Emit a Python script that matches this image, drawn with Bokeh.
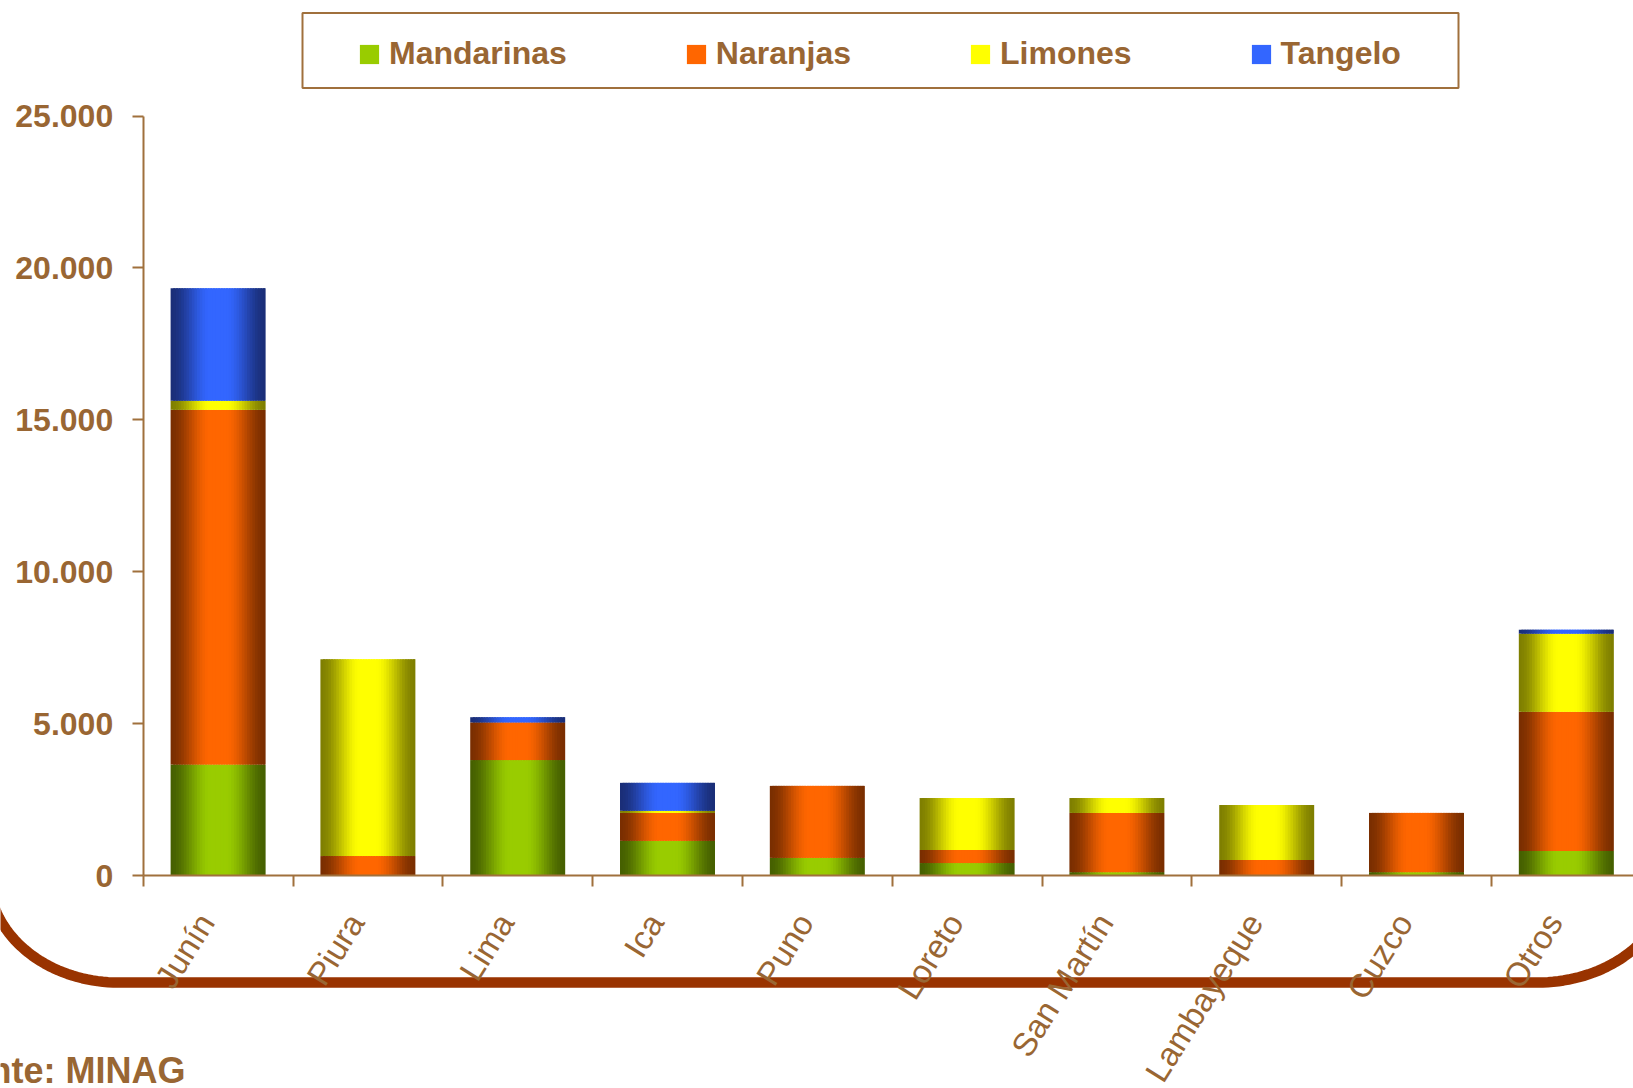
import numpy as np
from bokeh.plotting import figure
from bokeh.models import (Range1d, LinearAxis, FixedTicker, ColumnDataSource,
                          Legend, LegendItem, BoxAnnotation, CustomJSTickFormatter)
from bokeh.embed import file_html
from bokeh.resources import INLINE
from bokeh.core.properties import value

# ---------------- data ----------------
categories = ["Junín", "Piura", "Lima", "Ica", "Puno", "Loreto",
              "San Martín", "Lambayeque", "Cuzco", "Otros"]
mandarinas = [3650, 0, 3800, 1140, 580, 410, 110, 0, 110, 810]
naranjas = [11680, 640, 1240, 920, 2370, 430, 1950, 510, 1950, 4580]
limones = [300, 6480, 0, 70, 0, 1710, 490, 1810, 0, 2570]
tangelo = [3700, 0, 170, 920, 0, 0, 0, 0, 0, 130]
series_names = ["Mandarinas", "Naranjas", "Limones", "Tangelo"]
y_ticks = [0, 5000, 10000, 15000, 20000, 25000]
source_note = "Fuente: MINAG"

# ---------------- styles ----------------
dark_cols = ["#466000", "#7A2E00", "#7F7F00", "#1A2E78"]
bright_cols = ["#99CC00", "#FF6600", "#FFFF00", "#3366FF"]
BROWN = "#996633"
AXIS_COL = "#A0703C"
FONT = "Liberation Sans"

# page geometry (page pixels -> data units)
W, H = 1633, 1088
PX0, PY0 = 0, 0
SLOT = 149.8
XC0 = 217.6
Y_ZERO, Y_TOP, Y_MAX = 875.0, 115.5, 25000.0
LABEL_SHIFT = 0.08


def dx(px):
    return (np.asarray(px, float) - XC0) / SLOT


def dy(py):
    return (Y_ZERO - np.asarray(py, float)) * Y_MAX / (Y_ZERO - Y_TOP)


p = figure(width=W, height=H, output_backend="svg", toolbar_location=None,
           x_range=Range1d(float(dx(PX0)), float(dx(PX0 + W))),
           y_range=Range1d(float(dy(PY0 + H)), float(dy(PY0))),
           min_border=0, x_axis_type=None, y_axis_type=None)
p.grid.visible = False
p.outline_line_color = None
p.background_fill_color = "white"
p.border_fill_color = "white"

ncat = len(categories)

# ---------------- bars (cylinder-like shading by strips) ----------------
N = 36
BW = 0.634


def shade(t):
    if t < 0.42:
        u = t / 0.42
    elif t <= 0.58:
        u = 1.0
    else:
        u = (1 - t) / 0.42
    return u * u * (3 - 2 * u)


def mix(c1, c2, f):
    a = np.array([int(c1[i:i + 2], 16) for i in (1, 3, 5)], float)
    b = np.array([int(c2[i:i + 2], 16) for i in (1, 3, 5)], float)
    c = a + (b - a) * f
    return "#%02x%02x%02x" % tuple(int(round(v)) for v in c)


xs = np.arange(ncat, dtype=float)
bottoms = np.zeros(ncat)
legend_items = []
for k, vals in enumerate([mandarinas, naranjas, limones, tangelo]):
    v = np.array(vals, float)
    tops = bottoms + v
    mid_r = None
    for j in range(N):
        t = (j + 0.5) / N
        left = xs - BW / 2 + j * BW / N
        right = left + BW / N + (0.8 * BW / N if j < N - 1 else 0.0)
        src = ColumnDataSource(dict(left=left, right=right, bottom=bottoms.copy(), top=tops.copy()))
        r = p.quad(left="left", right="right", bottom="bottom", top="top", source=src,
                   fill_color=mix(dark_cols[k], bright_cols[k], shade(t)), line_color=None)
        if j == N // 2:
            mid_r = r
    legend_items.append(LegendItem(label=series_names[k], renderers=[mid_r]))
    bottoms = tops

# ---------------- axes ----------------
yaxis = LinearAxis(fixed_location=-0.5, bounds=(0, 25000), ticker=FixedTicker(ticks=y_ticks),
                   major_label_overrides={t: f"{t:,}".replace(",", ".") for t in y_ticks},
                   axis_line_color=AXIS_COL, axis_line_width=2,
                   major_tick_line_color=AXIS_COL, major_tick_line_width=2,
                   major_tick_in=0, major_tick_out=11, minor_tick_line_color=None,
                   major_label_standoff=19,
                   major_label_text_font=FONT, major_label_text_font_style="bold",
                   major_label_text_font_size="32px", major_label_text_color=BROWN)
p.add_layout(yaxis, "left")

label_ticks = [i - LABEL_SHIFT for i in range(ncat)]
boundary_ticks = [i - 0.5 for i in range(ncat + 1)]
xaxis = LinearAxis(fixed_location=0, bounds=(-0.5, ncat - 0.5),
                   ticker=FixedTicker(ticks=label_ticks, minor_ticks=boundary_ticks),
                   formatter=CustomJSTickFormatter(args=dict(cats=categories, sh=LABEL_SHIFT),
                                                   code="const i = Math.round(tick + sh); return (i >= 0 && i < cats.length) ? cats[i] : '';"),
                   axis_line_color=AXIS_COL, axis_line_width=2,
                   major_tick_line_color=None,
                   minor_tick_line_color=AXIS_COL, minor_tick_line_width=2,
                   minor_tick_in=0, minor_tick_out=11,
                   major_label_orientation=float(np.radians(58)), major_label_standoff=30,
                   major_label_text_font=FONT, major_label_text_font_size="33px",
                   major_label_text_color=BROWN)
p.add_layout(xaxis, "below")

# ---------------- decorative bracket ----------------
th1 = np.linspace(np.pi, np.pi / 2, 40)
th2 = np.linspace(np.pi / 2, 0, 40)
cx = np.concatenate([118 + 130 * np.cos(th1), 1537 + 130 * np.cos(th2)])
cy = np.concatenate([875 + 107 * np.sin(th1), 880 + 102 * np.sin(th2)])
p.line(dx(cx), dy(cy), line_width=10.5, line_color="#993300", line_cap="round")

# ---------------- source note ----------------
p.text(x=[float(dx(-75))], y=[float(dy(1070))], text=[source_note],
       text_font=value(FONT), text_font_style="bold", text_font_size="36px",
       text_color=BROWN, text_baseline="alphabetic", text_align="left")

# ---------------- legend ----------------
box = BoxAnnotation(left=float(dx(302)), right=float(dx(1458)),
                    top=float(dy(12.5)), bottom=float(dy(87.5)),
                    fill_alpha=0, line_color=AXIS_COL, line_alpha=1.0, line_width=2)
p.add_layout(box)

legend = Legend(items=legend_items, orientation="horizontal",
                location=(357, 1016), padding=0, margin=0, spacing=117,
                glyph_width=24, glyph_height=24, label_standoff=8,
                label_text_font=FONT, label_text_font_style="bold",
                label_text_font_size="32px", label_text_color=BROWN,
                border_line_color=None, background_fill_alpha=0)
p.add_layout(legend)

open("out.html", "w").write(file_html(p, INLINE))
